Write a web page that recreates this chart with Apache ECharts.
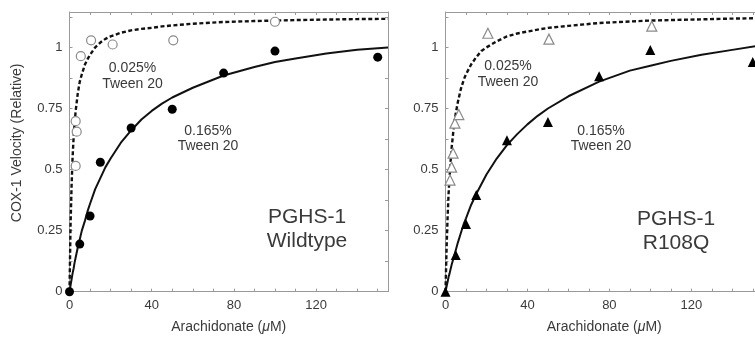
<!DOCTYPE html>
<html>
<head>
<meta charset="utf-8">
<script src="https://cdn.jsdelivr.net/npm/echarts@6/dist/echarts.min.js"></script>
<style>
  html, body { margin: 0; padding: 0; background: #fff; overflow: hidden; }
  /* the right panel runs past the frame edge in the original, so the canvas is a bit wider than the window */
  #chart { width: 775px; height: 343px; }
</style>
</head>
<body>
<div id="chart"></div>
<script>
// measured points, wildtype panel
const wtHighX = [0, 5, 10, 15, 30, 50, 75, 100, 150];
const wtHighY = [0, 0.195, 0.31, 0.53, 0.67, 0.747, 0.895, 0.985, 0.96];
const wtLowX = [3, 3.5, 3, 5.5, 10.5, 21, 50.5, 100];
const wtLowY = [0.515, 0.655, 0.698, 0.964, 1.029, 1.012, 1.029, 1.105];

// measured points, R108Q panel
const mutHighX = [0, 5, 10, 15, 30, 50, 75, 100, 150];
const mutHighY = [0, 0.15, 0.277, 0.396, 0.62, 0.695, 0.882, 0.989, 0.94];
const mutLowX = [2.2, 3, 3.7, 4.6, 6.5, 20.7, 50.5, 100.7];
const mutLowY = [0.457, 0.51, 0.567, 0.69, 0.725, 1.058, 1.034, 1.087];

// fitted curves
const fitX = [0, 0.5, 1, 1.5, 2, 2.5, 3, 4, 5, 6, 7.5, 9, 10, 12.5, 15, 17.5, 20, 25, 30, 35, 40, 45, 50, 60, 75, 90, 100, 110, 125, 140, 155];
const wtLowFit = [0, 0.27, 0.43, 0.55, 0.63, 0.69, 0.74, 0.81, 0.86, 0.89, 0.93, 0.955, 0.97, 1.0, 1.02, 1.035, 1.045, 1.06, 1.07, 1.076, 1.08, 1.086, 1.09, 1.097, 1.104, 1.108, 1.11, 1.112, 1.114, 1.116, 1.117];
const wtHighFit = [0, 0.025, 0.05, 0.075, 0.095, 0.12, 0.14, 0.18, 0.215, 0.25, 0.29, 0.335, 0.36, 0.42, 0.465, 0.51, 0.545, 0.61, 0.66, 0.705, 0.74, 0.77, 0.795, 0.835, 0.885, 0.92, 0.94, 0.955, 0.975, 0.99, 1.0];
const mutLowFit = [0, 0.17, 0.3, 0.4, 0.47, 0.535, 0.59, 0.67, 0.73, 0.775, 0.83, 0.87, 0.89, 0.93, 0.96, 0.985, 1.0, 1.025, 1.045, 1.057, 1.065, 1.073, 1.08, 1.088, 1.1, 1.106, 1.11, 1.112, 1.115, 1.118, 1.12];
const mutHighFit = [0, 0.02, 0.04, 0.06, 0.075, 0.093, 0.11, 0.14, 0.17, 0.2, 0.24, 0.28, 0.3, 0.355, 0.4, 0.44, 0.48, 0.545, 0.6, 0.645, 0.685, 0.72, 0.75, 0.8, 0.86, 0.905, 0.925, 0.945, 0.97, 0.99, 1.01];

const X_MAX = 155;
const Y_MAX = 1.145;
const FONT = '"Liberation Sans", Arial, sans-serif';
const TEXT = '#3a3a3a';
const AXIS = '#9a9a9a';

const zip = (xs, ys) => xs.map((x, i) => [x, ys[i]]);

const grids = [
  { left: 69.5, top: 12, width: 318.5, height: 279.7 },
  { left: 445.5, top: 12, width: 317.5, height: 279.7 },
];

function xAxisFor(gi, top) {
  return {
    type: 'value',
    gridIndex: gi,
    position: top ? 'top' : 'bottom',
    min: 0,
    max: X_MAX,
    interval: 10,
    name: top ? '' : 'Arachidonate ({i|μ}M)',
    nameLocation: 'middle',
    nameGap: 28,
    nameTextStyle: {
      color: TEXT, fontFamily: FONT, fontSize: 14,
      rich: { i: { fontStyle: 'italic', fontSize: 14, color: TEXT, fontFamily: FONT } },
    },
    axisLine: { show: true, onZero: false, lineStyle: { color: AXIS, width: 1 } },
    axisTick: { show: true, inside: true, length: 3, lineStyle: { color: AXIS } },
    axisLabel: {
      show: !top,
      margin: 7,
      color: TEXT,
      fontFamily: FONT,
      fontSize: 13,
      showMaxLabel: false,
      formatter: (v) => (v % 40 === 0 ? String(v) : ''),
    },
    splitLine: { show: false },
  };
}

function yAxisFor(gi, right) {
  return {
    type: 'value',
    gridIndex: gi,
    position: right ? 'right' : 'left',
    min: 0,
    max: Y_MAX,
    interval: 0.125,
    name: !right && gi === 0 ? 'COX-1 Velocity (Relative)' : '',
    nameLocation: 'middle',
    nameGap: 45,
    nameTextStyle: { color: TEXT, fontFamily: FONT, fontSize: 14, padding: [0, 0, 0, 18] },
    axisLine: { show: true, onZero: false, lineStyle: { color: AXIS, width: 1 } },
    axisTick: { show: true, inside: true, length: 3, lineStyle: { color: AXIS } },
    axisLabel: {
      show: !right,
      margin: 7,
      color: TEXT,
      fontFamily: FONT,
      fontSize: 13,
      showMaxLabel: false,
      formatter: (v) => (Math.abs(v * 4 - Math.round(v * 4)) < 1e-6 ? String(v) : ''),
    },
    splitLine: { show: false },
  };
}

function curve(xi, yi, data, dashed) {
  return {
    type: 'line',
    xAxisIndex: xi,
    yAxisIndex: yi,
    data,
    symbol: 'none',
    z: 2,
    lineStyle: dashed
      ? { color: '#111', width: 2.4, type: [4, 2.5] }
      : { color: '#111', width: 2 },
  };
}

function points(xi, yi, data, shape, open) {
  return {
    type: 'scatter',
    xAxisIndex: xi,
    yAxisIndex: yi,
    data,
    symbol: shape,
    symbolSize: shape === 'circle' ? 9 : 10,
    z: 3,
    itemStyle: open
      ? { color: '#fff', borderColor: '#8a8a8a', borderWidth: 1.2, opacity: 1 }
      : { color: '#000', opacity: 1 },
  };
}

function label(x, y, text, size, lh) {
  return {
    type: 'text',
    x, y,
    z: 10,
    style: {
      text,
      fill: TEXT,
      font: `${size}px ${FONT}`,
      lineHeight: lh,
      align: 'center',
      verticalAlign: 'middle',
    },
  };
}

const chart = echarts.init(document.getElementById('chart'), null, { renderer: 'canvas' });
chart.setOption({
  backgroundColor: '#fff',
  animation: false,
  grid: grids,
  // 0,1 = wildtype bottom/top; 2,3 = R108Q bottom/top
  xAxis: [xAxisFor(0, false), xAxisFor(0, true), xAxisFor(1, false), xAxisFor(1, true)],
  yAxis: [yAxisFor(0, false), yAxisFor(0, true), yAxisFor(1, false), yAxisFor(1, true)],
  series: [
    curve(0, 0, zip(fitX, wtLowFit), true),
    curve(0, 0, zip(fitX, wtHighFit), false),
    points(0, 0, zip(wtLowX, wtLowY), 'circle', true),
    points(0, 0, zip(wtHighX, wtHighY), 'circle', false),
    curve(2, 2, zip(fitX, mutLowFit), true),
    curve(2, 2, zip(fitX, mutHighFit), false),
    points(2, 2, zip(mutLowX, mutLowY), 'triangle', true),
    points(2, 2, zip(mutHighX, mutHighY), 'triangle', false),
  ],
  graphic: [
    label(132.5, 76, '0.025%\nTween 20', 14, 15.5),
    label(208, 138.5, '0.165%\nTween 20', 14, 15.5),
    label(307, 229.5, 'PGHS-1\nWildtype', 21, 24),
    label(508, 74, '0.025%\nTween 20', 14, 15.5),
    label(601, 138.7, '0.165%\nTween 20', 14, 15.5),
    label(676, 231.5, 'PGHS-1\nR108Q', 21, 24),
  ],
});
</script>
</body>
</html>
